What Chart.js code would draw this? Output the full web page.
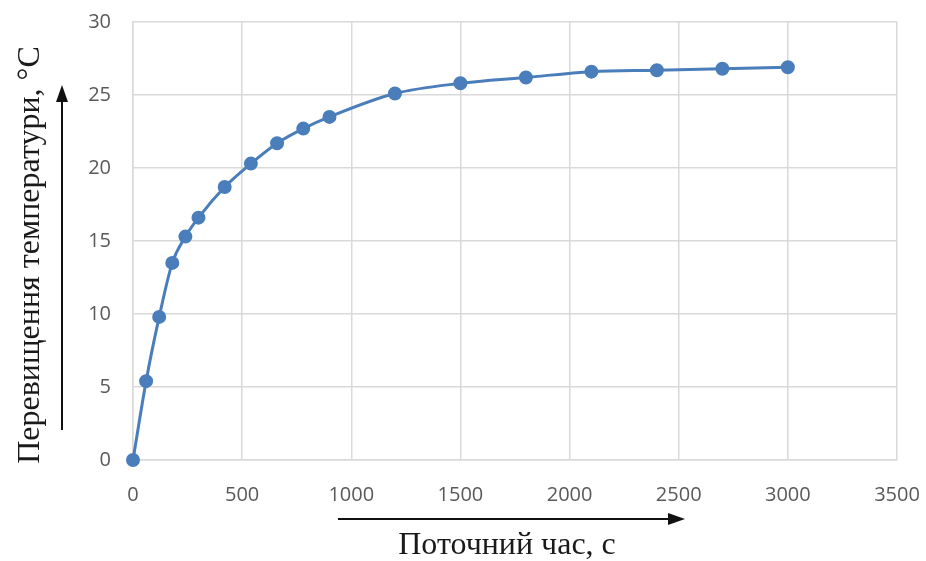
<!DOCTYPE html>
<html>
<head>
<meta charset="utf-8">
<script src="https://cdn.jsdelivr.net/npm/chart.js@4"></script>
<style>
  body { margin: 0; background: #fff; }
  #wrap { width: 926px; height: 561px; }
</style>
</head>
<body>
<div id="wrap"><canvas id="chart" width="926" height="561"></canvas></div>
<script>
// time, s
const timeSec = [0, 60, 120, 180, 240, 300, 420, 540, 660, 780, 900, 1200, 1500, 1800, 2100, 2400, 2700, 3000];
// temperature rise, °C
const tempRise = [0, 5.4, 9.8, 13.5, 15.3, 16.6, 18.7, 20.3, 21.7, 22.7, 23.5, 25.1, 25.8, 26.2, 26.6, 26.7, 26.8, 26.9];

const xTicks = [0, 500, 1000, 1500, 2000, 2500, 3000, 3500];
const yTicks = [0, 5, 10, 15, 20, 25, 30];

const xTitle = "Поточний час, с";
const yTitle = "Перевищення температури, °C";

const points = timeSec.map((t, i) => ({ x: t, y: tempRise[i] }));

// arrows + axis titles drawn by hand
const decorPlugin = {
  id: "decor",
  afterDraw(chart) {
    const ctx = chart.ctx;
    ctx.save();
    ctx.strokeStyle = "#111";
    ctx.fillStyle = "#111";
    ctx.lineWidth = 2;

    // vertical arrow
    ctx.beginPath();
    ctx.moveTo(62, 430);
    ctx.lineTo(62, 100);
    ctx.stroke();
    ctx.beginPath();
    ctx.moveTo(62, 85);
    ctx.lineTo(56, 102);
    ctx.lineTo(68, 102);
    ctx.closePath();
    ctx.fill();

    // horizontal arrow
    ctx.beginPath();
    ctx.moveTo(338, 519);
    ctx.lineTo(670, 519);
    ctx.stroke();
    ctx.beginPath();
    ctx.moveTo(685, 519);
    ctx.lineTo(668, 513);
    ctx.lineTo(668, 525);
    ctx.closePath();
    ctx.fill();

    // titles
    ctx.font = "32px 'Liberation Serif'";
    ctx.fillStyle = "#1a1a1a";
    ctx.textAlign = "center";
    ctx.textBaseline = "middle";
    ctx.fillText(xTitle, 507, 546);

    ctx.translate(31, 255);
    ctx.rotate(-Math.PI / 2);
    ctx.fillText(yTitle, 0, 0);
    ctx.restore();
  }
};

new Chart(document.getElementById("chart"), {
  type: "scatter",
  data: {
    datasets: [{
      data: points,
      showLine: true,
      borderColor: "#4a7ebb",
      backgroundColor: "#4a7ebb",
      borderWidth: 3,
      pointRadius: 5.5,
      pointHoverRadius: 5.5,
      cubicInterpolationMode: "monotone",
      clip: false
    }]
  },
  options: {
    responsive: false,
    animation: false,
    layout: { padding: { top: 22, right: 29, left: 0, bottom: 0 } },
    plugins: {
      legend: { display: false },
      tooltip: { enabled: false }
    },
    scales: {
      x: {
        type: "linear",
        min: 0,
        max: 3500,
        afterBuildTicks(scale) {
          scale.ticks = xTicks.map(v => ({ value: v }));
        },
        afterFit(scale) {
          scale.height = 101;
          scale.paddingLeft = 0;
          scale.paddingRight = 0;
        },
        grid: { color: "#d9d9d9", lineWidth: 1.5, drawTicks: false },
        border: { color: "#d9d9d9", width: 1.5 },
        ticks: {
          padding: 23,
          color: "#595959",
          font: { family: "'Open Sans'", size: 20 },
          callback: v => String(v)
        }
      },
      y: {
        type: "linear",
        min: 0,
        max: 30,
        afterBuildTicks(scale) {
          scale.ticks = yTicks.map(v => ({ value: v }));
        },
        afterFit(scale) {
          scale.width = 133;
          scale.paddingTop = 0;
          scale.paddingBottom = 0;
        },
        grid: { color: "#d9d9d9", lineWidth: 1.5, drawTicks: false },
        border: { color: "#d9d9d9", width: 1.5 },
        ticks: {
          padding: 22,
          color: "#595959",
          font: { family: "'Open Sans'", size: 20 },
          callback: v => String(v)
        }
      }
    }
  },
  plugins: [decorPlugin]
});
</script>
</body>
</html>
